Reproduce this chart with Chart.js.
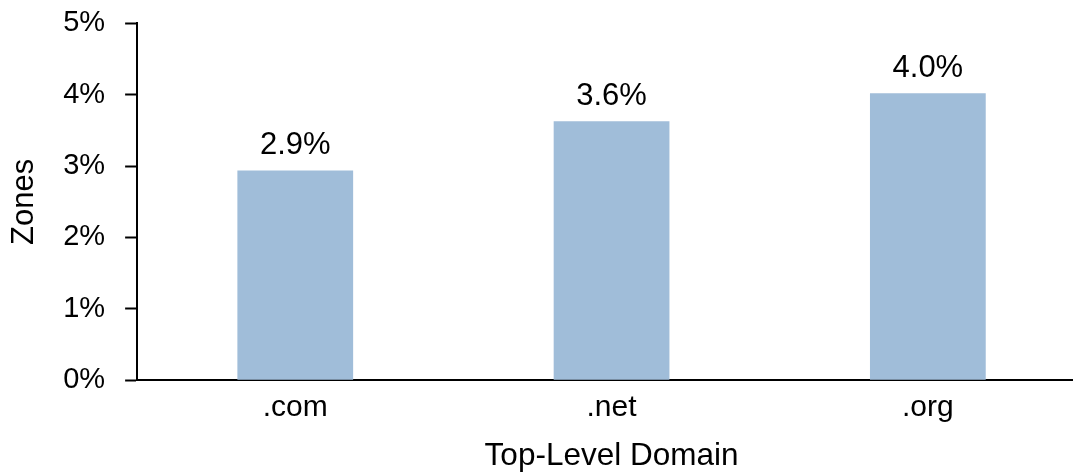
<!DOCTYPE html>
<html>
<head>
<meta charset="utf-8">
<script src="https://cdn.jsdelivr.net/npm/chart.js@4"></script>
<style>
  html, body { margin: 0; padding: 0; background: #fff; overflow: hidden; }
  /* taller box pulled up so the 5% line sits near the top edge */
  #wrap { position: relative; width: 1086px; height: 486px; margin-top: -14px; }
</style>
</head>
<body>
<div id="wrap"><canvas id="zonesChart"></canvas></div>
<script>
// share of zones per top-level domain
const domains = ['.com', '.net', '.org'];
const zoneShare = [2.94, 3.63, 4.02];
const yTicks = [0, 1, 2, 3, 4, 5];

Chart.defaults.font.family = "'Liberation Sans', Arial, sans-serif";
Chart.defaults.color = '#000';

// little plugin to write the value above each bar
const barValues = {
    id: 'barValues',
    afterDatasetsDraw(chart) {
        const ctx = chart.ctx;
        const meta = chart.getDatasetMeta(0);
        ctx.save();
        ctx.font = "31px 'Liberation Sans', Arial, sans-serif";
        ctx.fillStyle = '#000';
        ctx.textAlign = 'center';
        ctx.textBaseline = 'bottom';
        meta.data.forEach((bar, i) => {
            const v = chart.data.datasets[0].data[i];
            ctx.fillText(v.toFixed(1) + '%', bar.x, bar.y - 9);
        });
        ctx.restore();
    }
};

let zonesChart = new Chart('zonesChart', {
    type: 'bar',
    data: {
        labels: domains,
        datasets: [{
            label: 'Zones',
            data: zoneShare,
            backgroundColor: '#a0bdd9',
            barPercentage: 0.366,
            categoryPercentage: 1
        }]
    },
    plugins: [barValues],
    options: {
        responsive: true,
        maintainAspectRatio: false,
        animation: false,
        layout: {
            padding: { top: 0, right: 0, bottom: -3, left: 6 }
        },
        scales: {
            x: {
                grid: {
                    display: true,
                    drawOnChartArea: false,
                    drawTicks: false
                },
                border: { color: '#000', width: 2 },
                ticks: {
                    font: { size: 30 },
                    padding: 10
                },
                title: {
                    display: true,
                    text: 'Top-Level Domain',
                    font: { size: 31.5 },
                    padding: { top: 1, bottom: 0 }
                }
            },
            y: {
                min: 0,
                max: 5,
                afterBuildTicks(axis) {
                    axis.ticks = yTicks.map(v => ({ value: v }));
                },
                grid: {
                    drawOnChartArea: false,
                    drawTicks: true,
                    tickLength: 12,
                    tickColor: '#000',
                    tickWidth: 2
                },
                border: { color: '#000', width: 2 },
                ticks: {
                    font: { size: 29 },
                    padding: 20,
                    callback: v => v + '%'
                },
                title: {
                    display: true,
                    text: 'Zones',
                    font: { size: 31 },
                    padding: { top: 0, bottom: 0 }
                }
            }
        },
        plugins: {
            legend: { display: false },
            tooltip: { enabled: false }
        }
    }
});
</script>
</body>
</html>
